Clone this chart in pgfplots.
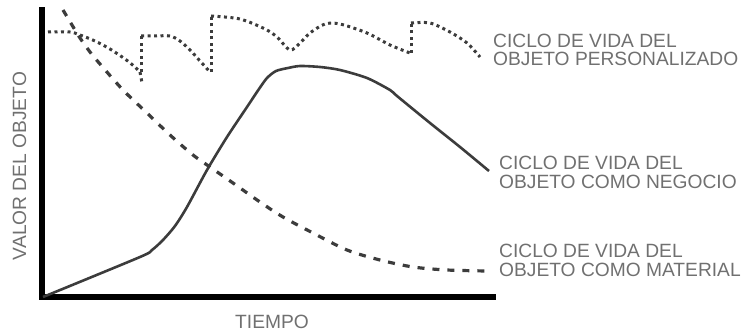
\documentclass[border=0pt]{standalone}
\usepackage{fontspec}
\setmainfont{Liberation Sans}
\usepackage{pgfplots}
\pgfplotsset{compat=1.18}
\definecolor{txt}{HTML}{707070}
\definecolor{ink}{HTML}{3C3C3C}
\begin{document}
\begin{tikzpicture}
\useasboundingbox (0,0) rectangle (743pt,332pt);
\begin{axis}[
    at={(42pt,35pt)}, anchor=south west,
    scale only axis,
    width=451pt, height=287pt,
    xmin=42, xmax=493, ymin=0, ymax=287,
    axis lines=left,
    axis line style={-, line width=6pt, black, line cap=rect},
    xtick=\empty, ytick=\empty,
    clip=false,
    every axis plot/.append style={ink},
]
% objeto como negocio
\addplot[line width=2.6pt, smooth, tension=0.45] coordinates {
  (43,0) (140,40) (152,47) (163,57) (175,71) (187,90) (207,127) (227,160)
  (247,190) (259,208) (267,219) (276,226) (288,229) (300,231) (320,230)
  (340,227) (367,219) (390,207) (397,201) (430,174) (460,150) (489,126)};
% objeto como material
\addplot[line width=3.2pt, dash pattern=on 7pt off 8pt, smooth] coordinates {
  (63,287) (72,272) (80,259) (90,245) (100,233) (123,207) (147,184)
  (170,162) (193,142) (210,130) (233,114) (260,95) (283,80) (313,64)
  (347,47) (380,37) (413,30) (447,27) (487,26)};
% objeto personalizado
\pgfplotsset{dotline/.style={line width=3pt, dash pattern=on 3pt off 3.5pt}}
\addplot[dotline, smooth] coordinates {
  (48,265) (70,265) (80,262) (95,256) (110,248) (125,238) (135,230) (140,225)};
\addplot[dotline] coordinates {(140,225) (142,214)};
\addplot[dotline] coordinates {(141,225) (141,261)};
\addplot[dotline, smooth] coordinates {
  (141,261) (155,261) (170,261) (180,256) (190,247) (200,236) (210,225)};
\addplot[dotline] coordinates {(211,225) (211,281)};
\addplot[dotline, smooth] coordinates {
  (211,281) (240,278) (265,268) (277,260) (290,247) (300,254) (310,264)
  (325,273) (340,273) (367,264) (390,252) (410,244)};
\addplot[dotline] coordinates {(411,244) (411,274)};
\addplot[dotline, smooth] coordinates {
  (411,274) (430,274) (450,265) (467,254) (480,240)};
% textos
\begin{scope}[every node/.style={inner sep=0pt, text=txt, font=\fontsize{19.2}{19}\selectfont}]
\node[anchor=base west] at (axis cs:493,249) {CICLO DE VIDA DEL};
\node[anchor=base west] at (axis cs:493,231) {OBJETO PERSONALIZADO};
\node[anchor=base west] at (axis cs:499,128) {CICLO DE VIDA DEL};
\node[anchor=base west] at (axis cs:499,109) {OBJETO COMO NEGOCIO};
\node[anchor=base west] at (axis cs:499,40) {CICLO DE VIDA DEL};
\node[anchor=base west] at (axis cs:499,21) {OBJETO COMO MATERIAL};
\node[anchor=base] at (axis cs:272,-31) {TIEMPO};
\node[anchor=base, rotate=90] at (axis cs:26,131) {VALOR DEL OBJETO};
\end{scope}
\end{axis}
\end{tikzpicture}
\end{document}
